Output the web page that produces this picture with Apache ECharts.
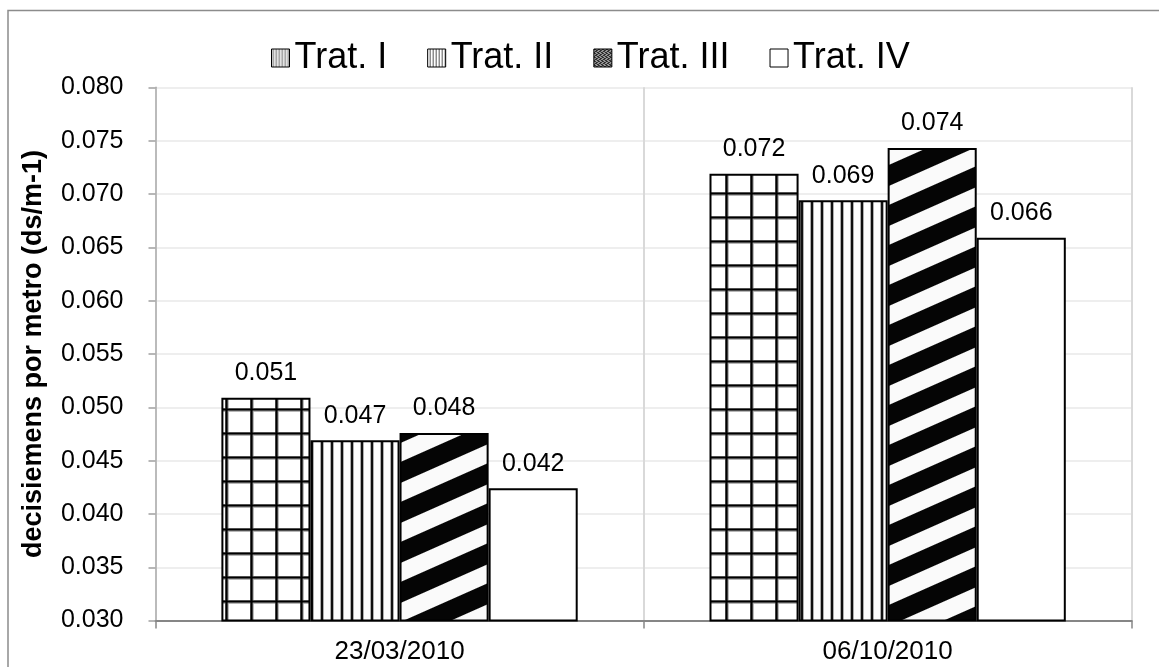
<!DOCTYPE html>
<html>
<head>
<meta charset="utf-8">
<script src="https://cdn.jsdelivr.net/npm/echarts@6/dist/echarts.min.js"></script>
<style>
  html, body { margin: 0; padding: 0; background: #fff; }
  #chart { width: 1159px; height: 667px; }
</style>
</head>
<body>
<div id="chart"></div>
<script>
// Conductivity per sampling date and treatment
const dates = ['23/03/2010', '06/10/2010'];
const seriesNames = ['Trat. I', 'Trat. II', 'Trat. III', 'Trat. IV'];
const tratI = [0.0509, 0.0719];
const tratII = [0.0469, 0.0694];
const tratIII = [0.0476, 0.0743];
const tratIV = [0.0424, 0.0659];
const yTicks = { min: 0.030, max: 0.080, step: 0.005 };

const FONT = '"Liberation Sans", Arial, sans-serif';

function makeCanvas(w, h) {
  const c = document.createElement('canvas');
  c.width = w; c.height = h;
  return c;
}

// square grid hatch
function gridPattern() {
  const c = makeCanvas(25, 24), g = c.getContext('2d');
  g.fillStyle = '#fff'; g.fillRect(0, 0, 25, 24);
  g.strokeStyle = '#a0a0a0'; g.lineWidth = 4.4;
  g.beginPath(); g.moveTo(1.5, 0); g.lineTo(1.5, 24); g.moveTo(0, 1.5); g.lineTo(25, 1.5); g.stroke();
  g.strokeStyle = '#000'; g.lineWidth = 2.2;
  g.beginPath(); g.moveTo(1.5, 0); g.lineTo(1.5, 24); g.moveTo(0, 1.5); g.lineTo(25, 1.5); g.stroke();
  return c;
}

// vertical line hatch
function vLinePattern() {
  const c = makeCanvas(10, 4), g = c.getContext('2d');
  g.fillStyle = '#fff'; g.fillRect(0, 0, 10, 4);
  g.fillStyle = '#b0b0b0'; g.fillRect(0, 0, 4, 4);
  g.fillStyle = '#111'; g.fillRect(1, 0, 2, 4);
  return c;
}

// wide diagonal stripes rising to the right, slightly soft edges
function stripePattern() {
  const w = 90, h = 40, slope = 4 / 9, dark = 21, ss = 4;
  const c = makeCanvas(w, h), g = c.getContext('2d');
  const img = g.createImageData(w, h);
  for (let y = 0; y < h; y++) {
    for (let x = 0; x < w; x++) {
      let cover = 0;
      for (let sy = 0; sy < ss; sy++) {
        for (let sx = 0; sx < ss; sx++) {
          const px = x + (sx + 0.5) / ss, py = y + (sy + 0.5) / ss;
          let t = (py + slope * px) % h;
          if (t < 0) t += h;
          if (t < dark) cover++;
        }
      }
      const v = Math.round(250 - 245 * cover / (ss * ss));
      const i = (y * w + x) * 4;
      img.data[i] = img.data[i + 1] = img.data[i + 2] = v;
      img.data[i + 3] = 255;
    }
  }
  g.putImageData(img, 0, 0);
  return c;
}

// small swatches for the legend keys
function swatch(cols) {
  const c = makeCanvas(cols.length, 1), g = c.getContext('2d');
  cols.forEach((col, i) => { g.fillStyle = col; g.fillRect(i, 0, 1, 1); });
  return c;
}
function stipple() {
  const c = makeCanvas(4, 4), g = c.getContext('2d');
  g.fillStyle = '#9a9a9a'; g.fillRect(0, 0, 4, 4);
  g.fillStyle = '#2a2a2a';
  g.fillRect(0, 0, 2, 1); g.fillRect(2, 1, 2, 1); g.fillRect(1, 2, 2, 1); g.fillRect(3, 3, 1, 1); g.fillRect(0, 3, 1, 1);
  return c;
}

const fills = [
  { image: gridPattern(), repeat: 'repeat' },
  { image: vLinePattern(), repeat: 'repeat' },
  { image: stripePattern(), repeat: 'repeat' },
  '#ffffff'
];
const legendFills = [
  { image: swatch(['#ffffff', '#8a8a8a', '#c4c4c4']), repeat: 'repeat' },
  { image: swatch(['#ffffff', '#ffffff', '#555555']), repeat: 'repeat' },
  { image: stipple(), repeat: 'repeat' },
  '#ffffff'
];
const values = [tratI, tratII, tratIII, tratIV];

const chart = echarts.init(document.getElementById('chart'), null, { renderer: 'canvas' });

chart.setOption({
  animation: false,
  backgroundColor: '#fff',
  textStyle: { fontFamily: FONT },
  graphic: [{
    type: 'rect',
    z: -10,
    shape: { x: 8, y: 10.5, width: 1180, height: 700 },
    style: { fill: 'none', stroke: '#8c8c8c', lineWidth: 1.5 }
  }],
  legend: {
    left: 266,
    top: 35,
    itemWidth: 18,
    itemHeight: 18,
    itemGap: 40,
    icon: 'rect',
    textStyle: { fontFamily: FONT, fontSize: 36, color: '#000' },
    data: seriesNames.map((n, i) => ({
      name: n,
      itemStyle: { color: legendFills[i], borderColor: '#000', borderWidth: 1 }
    }))
  },
  grid: { left: 155.5, right: 27.3, top: 87.3, bottom: 46.4, containLabel: false },
  xAxis: {
    type: 'category',
    data: dates,
    axisLine: { lineStyle: { color: '#868686', width: 2 } },
    axisTick: { show: true, length: 8, lineStyle: { color: '#868686', width: 1.5 } },
    splitLine: { show: true, lineStyle: { color: '#d9d9d9', width: 2 } },
    axisLabel: { fontFamily: FONT, fontSize: 26, color: '#000', margin: 18 }
  },
  yAxis: {
    type: 'value',
    min: yTicks.min,
    max: yTicks.max,
    interval: yTicks.step,
    name: 'decisiemens por metro (ds/m-1)',
    nameLocation: 'middle',
    nameGap: 108,
    nameTextStyle: { fontFamily: FONT, fontSize: 27, fontWeight: 'bold', color: '#000' },
    axisLine: { show: true, lineStyle: { color: '#b0b0b0', width: 1.5 } },
    axisTick: { show: true, length: 7, lineStyle: { color: '#a0a0a0', width: 1.5 } },
    splitLine: { show: true, lineStyle: { color: '#eeeeee', width: 2 } },
    axisLabel: {
      fontFamily: FONT, fontSize: 25, color: '#000', margin: 32,
      formatter: v => v.toFixed(3)
    }
  },
  series: seriesNames.map((n, i) => ({
    name: n,
    type: 'bar',
    data: values[i],
    barGap: '0%',
    barCategoryGap: '27%',
    itemStyle: { color: fills[i], borderColor: '#000', borderWidth: 2 },
    label: {
      show: true,
      position: 'top',
      distance: 12,
      fontFamily: FONT,
      fontSize: 25,
      color: '#000',
      formatter: p => p.value.toFixed(3)
    }
  }))
});
</script>
</body>
</html>
